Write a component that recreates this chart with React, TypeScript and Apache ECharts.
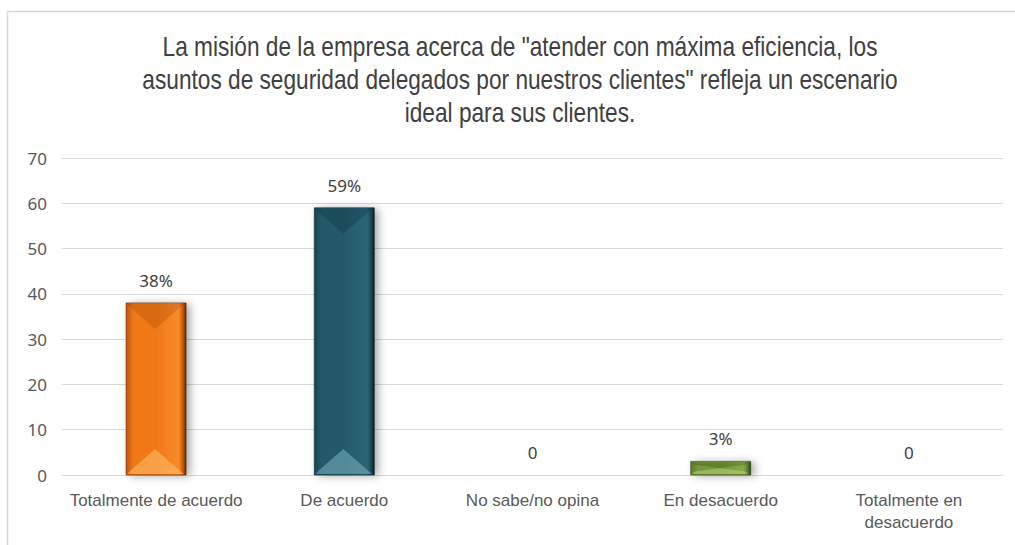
import React, { useEffect, useRef } from "react";
import * as echarts from "echarts";

const titleText =
  'La misión de la empresa acerca de "atender con máxima eficiencia, los\nasuntos de seguridad delegados por nuestros clientes" refleja un escenario\nideal para sus clientes.';
const categories = [
  "Totalmente de acuerdo",
  "De acuerdo",
  "No sabe/no opina",
  "En desacuerdo",
  "Totalmente en\ndesacuerdo",
];
const values = [38, 59, 0, 3, 0];
const dataLabels = ["38%", "59%", "0", "3%", "0"];
const yTicks = { min: 0, max: 70, interval: 10 };

const palettes = [
  { l: "#c0560a", m: "#f07818", r: "#f88a2a", e: "#5a2a04", top: "rgba(120,50,0,0.2)", bot: "rgba(255,200,120,0.5)" },
  { l: "#184455", m: "#245a6a", r: "#2d6676", e: "#0a2028", top: "rgba(0,20,30,0.2)", bot: "rgba(140,200,210,0.45)" },
  { l: "#556b2f", m: "#6b8e23", r: "#77993a", e: "#2d3a14", top: "rgba(30,40,0,0.2)", bot: "rgba(220,240,170,0.35)" },
  { l: "#5d7a2c", m: "#76973a", r: "#86a846", e: "#2e3d12", top: "rgba(30,40,0,0.2)", bot: "rgba(220,240,170,0.35)" },
  { l: "#556b2f", m: "#6b8e23", r: "#77993a", e: "#2d3a14", top: "rgba(30,40,0,0.2)", bot: "rgba(220,240,170,0.35)" },
];

const BAR_W = 60;

export default function App() {
  const ref = useRef<HTMLDivElement>(null);
  useEffect(() => {
    if (!ref.current) return;
    const chart = echarts.init(ref.current, undefined, { renderer: "svg" });
    const barData = values.map((v, i) => {
      const p = palettes[i];
      return {
        value: v,
        itemStyle: {
          color: new echarts.graphic.LinearGradient(0, 0, 1, 0, [
            { offset: 0, color: p.l },
            { offset: 0.12, color: p.m },
            { offset: 0.5, color: p.m },
            { offset: 0.88, color: p.r },
            { offset: 0.95, color: p.l },
            { offset: 1, color: p.e },
          ]),
          shadowBlur: 8,
          shadowOffsetX: 4,
          shadowOffsetY: 1,
          shadowColor: "rgba(0,0,0,0.35)",
        },
      };
    });
    chart.setOption({
      animation: false,
      graphic: [
        { type: "line", shape: { x1: 7.5, y1: 11.5, x2: 1015, y2: 11.5 }, style: { stroke: "#d9d9d9", lineWidth: 1.5 } },
        { type: "line", shape: { x1: 7.5, y1: 11.5, x2: 7.5, y2: 545 }, style: { stroke: "#d9d9d9", lineWidth: 1.5 } },
        {
          type: "text",
          x: 520,
          y: 30,
          scaleX: 0.84,
          style: {
            text: titleText,
            fill: "#404040",
            font: "27px 'Liberation Sans', Arial, sans-serif",
            align: "center",
            verticalAlign: "top",
            lineHeight: 33,
          },
        },
      ],
      grid: { left: 62, right: 12, top: 158, bottom: 70, containLabel: false },
      xAxis: {
        type: "category",
        data: categories,
        axisLine: { lineStyle: { color: "#d9d9d9" } },
        axisTick: { show: false },
        axisLabel: {
          color: "#595959",
          fontSize: 17,
          fontFamily: "'Liberation Sans', Arial, sans-serif",
          margin: 14,
          lineHeight: 22,
          interval: 0,
        },
      },
      yAxis: {
        type: "value",
        min: yTicks.min,
        max: yTicks.max,
        interval: yTicks.interval,
        axisLine: { show: false },
        axisTick: { show: false },
        splitLine: { lineStyle: { color: "#d9d9d9" } },
        axisLabel: {
          color: "#595959",
          fontSize: 17,
          fontFamily: "'Noto Sans', sans-serif",
          margin: 15,
        },
      },
      series: [
        {
          type: "bar",
          data: barData,
          barWidth: BAR_W,
          label: {
            show: true,
            position: "top",
            distance: 14,
            color: "#404040",
            fontSize: 17,
            fontFamily: "'Noto Sans', sans-serif",
            formatter: (p: any) => dataLabels[p.dataIndex],
          },
          z: 2,
        },
        {
          type: "custom",
          z: 3,
          silent: true,
          data: values.map((v, i) => [i, v]),
          renderItem: (params: any, api: any) => {
            const idx = api.value(0);
            const val = api.value(1);
            const top = api.coord([idx, val]);
            const base = api.coord([idx, 0]);
            const h = base[1] - top[1];
            if (h <= 1) return null;
            const p = palettes[params.dataIndex];
            const x0 = top[0] - BAR_W / 2;
            const x1 = top[0] + BAR_W / 2 - 2;
            const xc = (x0 + x1) / 2;
            const d = Math.min(26, h / 2);
            const inset = Math.min(5, h / 4);
            return {
              type: "group",
              children: [
                {
                  type: "polygon",
                  shape: { points: [[x0 + 1, top[1] + 1], [x1, top[1] + 1], [x1 - inset, top[1] + inset], [xc, top[1] + d], [x0 + inset, top[1] + inset]] },
                  style: { fill: p.top },
                },
                {
                  type: "polygon",
                  shape: { points: [[x0 + 1, base[1] - 1], [x1, base[1] - 1], [x1 - inset, base[1] - inset], [xc, base[1] - d], [x0 + inset, base[1] - inset]] },
                  style: { fill: p.bot },
                },
                {
                  type: "rect",
                  shape: { x: x0, y: top[1], width: x1 - x0 + 2, height: h },
                  style: { fill: "none", stroke: p.e, lineWidth: 1, opacity: 0.6 },
                },
              ],
            };
          },
        },
      ],
    });
    return () => chart.dispose();
  }, []);
  return (
    <div
      ref={ref}
      style={{ position: "fixed", left: 0, top: 0, width: 1015, height: 545, background: "#fff" }}
    />
  );
}
